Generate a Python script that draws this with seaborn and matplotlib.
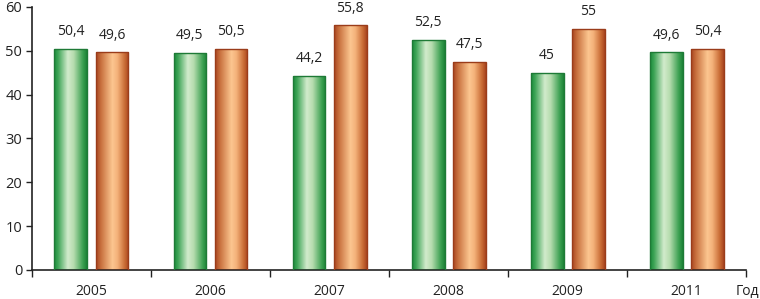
import numpy as np
import pandas as pd
import matplotlib
matplotlib.use("Agg")
import matplotlib.pyplot as plt
from matplotlib.colors import LinearSegmentedColormap
import seaborn as sns

years = ["2005", "2006", "2007", "2008", "2009", "2011"]
series_a = [50.4, 49.5, 44.2, 52.5, 45.0, 49.6]
series_b = [49.6, 50.5, 55.8, 47.5, 55.0, 50.4]
labels_a = ["50,4", "49,5", "44,2", "52,5", "45", "49,6"]
labels_b = ["49,6", "50,5", "55,8", "47,5", "55", "50,4"]
series_names = ["A", "B"]

df = pd.DataFrame({
    "year": years * 2,
    "value": series_a + series_b,
    "series": [series_names[0]] * len(years) + [series_names[1]] * len(years),
    "label": labels_a + labels_b,
})

sns.set_style("white")
plt.rcParams["font.family"] = ["Open Sans", "DejaVu Sans"]

fig = plt.figure(figsize=(7.6, 2.99), dpi=100)
ax = fig.add_axes([0.042, 0.097, 0.94, 0.88])

sns.barplot(data=df, x="year", y="value", hue="series", order=years,
            hue_order=series_names, width=0.69, gap=0.2,
            palette=["#2e9a4a", "#c0622e"], legend=False, ax=ax,
            edgecolor="none", linewidth=0)

ax.set_ylim(0, 60)
ax.set_xlim(-0.5, len(years) - 0.5)

green_cmap = LinearSegmentedColormap.from_list(
    "g", [(0, "#1a8a3a"), (0.12, "#3da456"), (0.42, "#d2ebcc"), (0.6, "#b5dcae"), (0.88, "#3a9f50"), (1, "#1c8236")])
orange_cmap = LinearSegmentedColormap.from_list(
    "o", [(0, "#a8441f"), (0.15, "#c8703e"), (0.5, "#fcc690"), (0.65, "#f4b27a"), (0.88, "#c86a34"), (1, "#a8441f")])
edge_colors = ["#1e7a36", "#9a3c1a"]

grad = np.linspace(0, 1, 256).reshape(1, -1)
n = len(years)
for i, patch in enumerate(ax.patches):
    x, y = patch.get_x(), patch.get_y()
    w, h = patch.get_width(), patch.get_height()
    s = i // n
    cmap = green_cmap if s == 0 else orange_cmap
    im = ax.imshow(grad, cmap=cmap, extent=[x, x + w, y, y + h], aspect="auto", zorder=2)
    im.set_clip_path(patch)
    patch.set_facecolor("none")
    patch.set_edgecolor(edge_colors[s])
    patch.set_linewidth(1.0)
    patch.set_zorder(3)
    lab = df["label"].iloc[i]
    ax.annotate(lab, (x + w / 2, y + h), xytext=(0, 7), textcoords="offset points",
                ha="center", va="bottom", fontsize=10, color="#222222")

ax.set_ylim(0, 60)
ax.set_xlim(-0.5, len(years) - 0.5)

ax.set_yticks(range(0, 61, 10))
ax.tick_params(axis="y", direction="out", length=4, width=1, color="#222222",
               left=True, labelsize=10.5, labelcolor="#222222", pad=3)
ax.set_xticks(range(len(years)))
ax.set_xticklabels(years)
ax.tick_params(axis="x", which="major", length=0, labelsize=10, labelcolor="#222222", pad=10)
ax.set_xticks(np.arange(-0.5, len(years), 1), minor=True)
ax.tick_params(axis="x", which="minor", direction="out", length=5, width=1,
               color="#222222", bottom=True)

for side in ["top", "right"]:
    ax.spines[side].set_visible(False)
for side in ["left", "bottom"]:
    ax.spines[side].set_color("#222222")
    ax.spines[side].set_linewidth(1.2)

ax.set_xlabel("")
ax.set_ylabel("")
fig.text(0.999, 1 - 291 / 299, "Год", ha="right", va="center",
         fontsize=10, color="#222222")

fig.savefig("out.png", dpi=100)
